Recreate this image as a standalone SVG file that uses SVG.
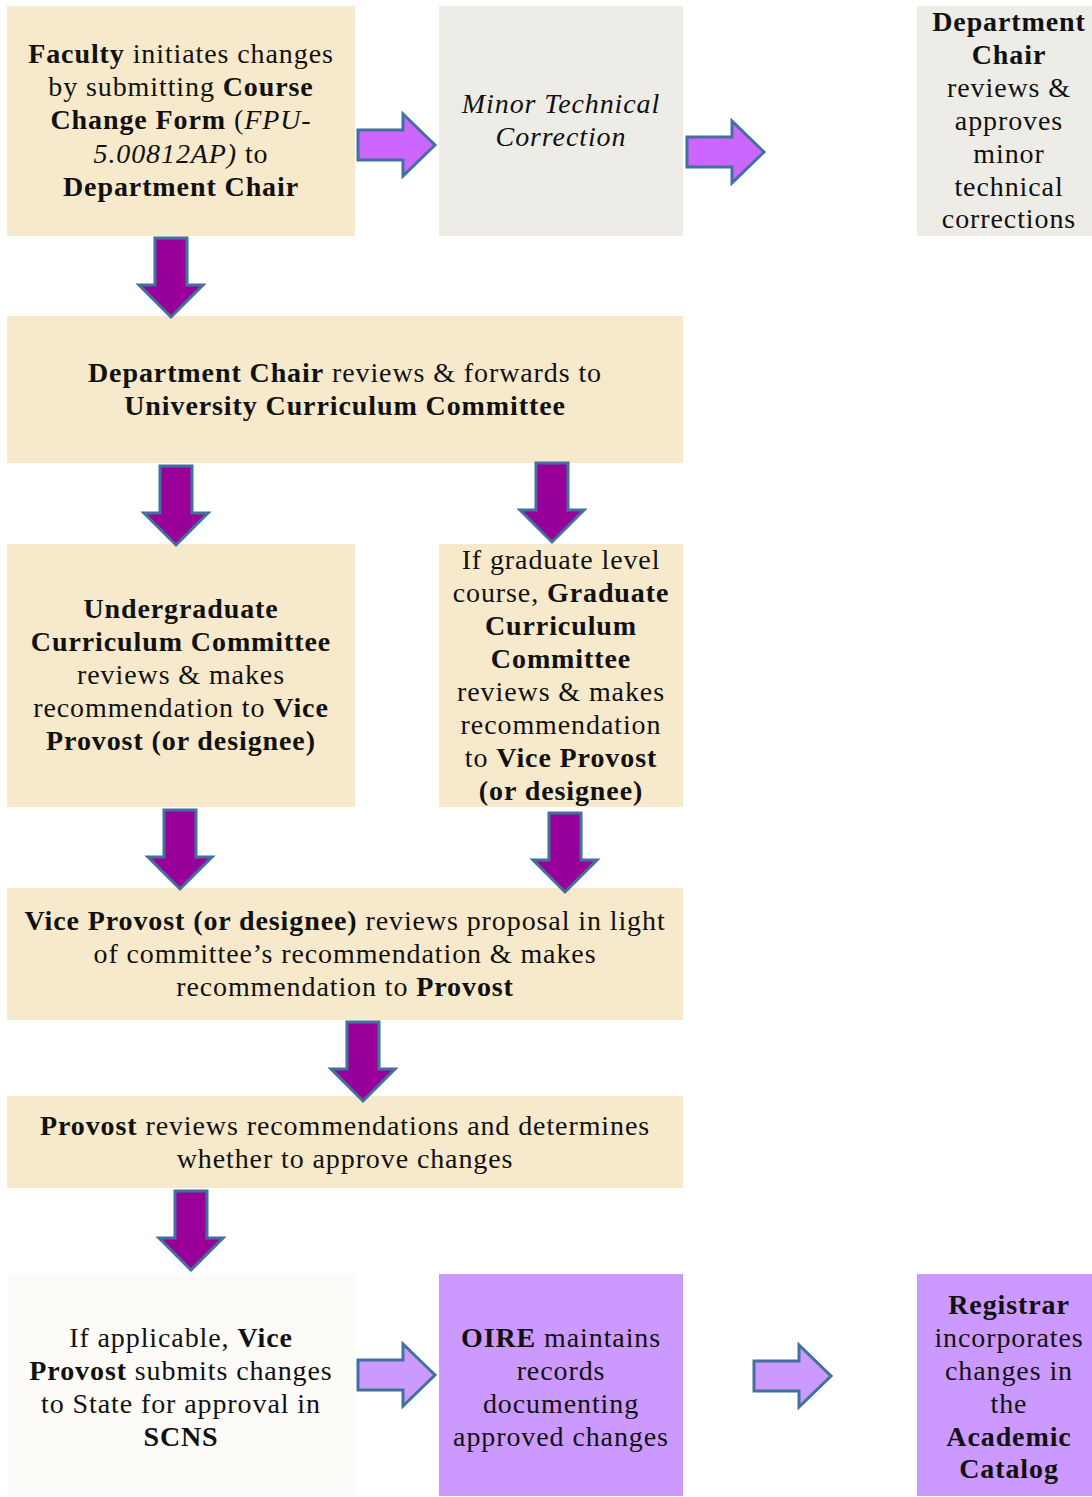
<svg xmlns="http://www.w3.org/2000/svg" width="1092" height="1497" viewBox="0 0 1092 1497">
<style>
text{font-family:"Liberation Serif","DejaVu Serif",serif;font-size:28px;letter-spacing:0.9px;fill:#111;text-anchor:middle}
.b{font-weight:bold}
.i{font-style:italic}
.beige{fill:#F7E9CB}
.grey{fill:#EEECE7}
.cream{fill:#FCFBF7}
.lav{fill:#CC99FF}
.dn{fill:#990099;stroke:#41719C;stroke-width:3;stroke-linejoin:miter}
.rt1{fill:#CC66FF;stroke:#41719C;stroke-width:3}
.rt2{fill:#CC99FF;stroke:#41719C;stroke-width:3}
</style>
<defs>
<path id="down" d="M-16,0 H16 V47 H32 L0,79 L-32,47 H-16 Z"/>
<path id="right" d="M0,-15 H45 V-31 L77,0 L45,31 V15 H0 Z"/>
</defs>
<rect width="1092" height="1497" fill="#fff"/>
<g id="n1"><rect class="beige" x="7" y="6" width="348" height="230"/>
<text x="181" y="63"><tspan class="b">Faculty</tspan> initiates changes</text>
<text x="181" y="96">by submitting <tspan class="b">Course</tspan></text>
<text x="181" y="129"><tspan class="b">Change Form</tspan> (<tspan class="i">FPU-</tspan></text>
<text x="181" y="163"><tspan class="i">5.00812AP)</tspan> to</text>
<text x="181" y="196" class="b">Department Chair</text></g>
<g id="n2"><rect class="grey" x="439" y="6" width="244" height="230"/>
<text x="561" y="113" class="i">Minor Technical</text>
<text x="561" y="146" class="i">Correction</text></g>
<g id="n3"><rect class="grey" x="917" y="6" width="175" height="230"/>
<text x="1009" y="31" class="b">Department</text>
<text x="1009" y="64" class="b">Chair</text>
<text x="1009" y="97">reviews &amp;</text>
<text x="1009" y="130">approves</text>
<text x="1009" y="163">minor</text>
<text x="1009" y="196">technical</text>
<text x="1009" y="228">corrections</text></g>
<g id="n4"><rect class="beige" x="7" y="316" width="676" height="147"/>
<text x="345" y="382"><tspan class="b">Department Chair</tspan> reviews &amp; forwards to</text>
<text x="345" y="415" class="b">University Curriculum Committee</text></g>
<g id="n5"><rect class="beige" x="7" y="544" width="348" height="263"/>
<text x="181" y="618" class="b">Undergraduate</text>
<text x="181" y="651" class="b">Curriculum Committee</text>
<text x="181" y="684">reviews &amp; makes</text>
<text x="181" y="717">recommendation to <tspan class="b">Vice</tspan></text>
<text x="181" y="750" class="b">Provost (or designee)</text></g>
<g id="n6"><rect class="beige" x="439" y="544" width="244" height="263"/>
<text x="561" y="569">If graduate level</text>
<text x="561" y="602">course, <tspan class="b">Graduate</tspan></text>
<text x="561" y="635" class="b">Curriculum</text>
<text x="561" y="668" class="b">Committee</text>
<text x="561" y="701">reviews &amp; makes</text>
<text x="561" y="734">recommendation</text>
<text x="561" y="767">to <tspan class="b">Vice Provost</tspan></text>
<text x="561" y="800" class="b">(or designee)</text></g>
<g id="n7"><rect class="beige" x="7" y="888" width="676" height="132"/>
<text x="345" y="930"><tspan class="b">Vice Provost (or designee)</tspan> reviews proposal in light</text>
<text x="345" y="963">of committee’s recommendation &amp; makes</text>
<text x="345" y="996">recommendation to <tspan class="b">Provost</tspan></text></g>
<g id="n8"><rect class="beige" x="7" y="1096" width="676" height="92"/>
<text x="345" y="1135"><tspan class="b">Provost</tspan> reviews recommendations and determines</text>
<text x="345" y="1168">whether to approve changes</text></g>
<g id="n9"><rect class="cream" x="7" y="1274" width="348" height="222"/>
<text x="181" y="1347">If applicable, <tspan class="b">Vice</tspan></text>
<text x="181" y="1380"><tspan class="b">Provost</tspan> submits changes</text>
<text x="181" y="1413">to State for approval in</text>
<text x="181" y="1446" class="b">SCNS</text></g>
<g id="n10"><rect class="lav" x="439" y="1274" width="244" height="222"/>
<text x="561" y="1347"><tspan class="b">OIRE</tspan> maintains</text>
<text x="561" y="1380">records</text>
<text x="561" y="1413">documenting</text>
<text x="561" y="1446">approved changes</text></g>
<g id="n11"><rect class="lav" x="917" y="1274" width="175" height="222"/>
<text x="1009" y="1314" class="b">Registrar</text>
<text x="1009" y="1347">incorporates</text>
<text x="1009" y="1380">changes in</text>
<text x="1009" y="1413">the</text>
<text x="1009" y="1446" class="b">Academic</text>
<text x="1009" y="1478" class="b">Catalog</text></g>
<g id="connectors">
<use href="#right" class="rt1" transform="translate(358,145)"/>
<use href="#right" class="rt1" transform="translate(687,152)"/>
<use href="#down" class="dn" transform="translate(171,238)"/>
<use href="#down" class="dn" transform="translate(176,466)"/>
<use href="#down" class="dn" transform="translate(552,463)"/>
<use href="#down" class="dn" transform="translate(180,810)"/>
<use href="#down" class="dn" transform="translate(565,813)"/>
<use href="#down" class="dn" transform="translate(363,1022)"/>
<use href="#down" class="dn" transform="translate(191,1191)"/>
<use href="#right" class="rt2" transform="translate(358,1375)"/>
<use href="#right" class="rt2" transform="translate(754,1376)"/>
</g>
</svg>
